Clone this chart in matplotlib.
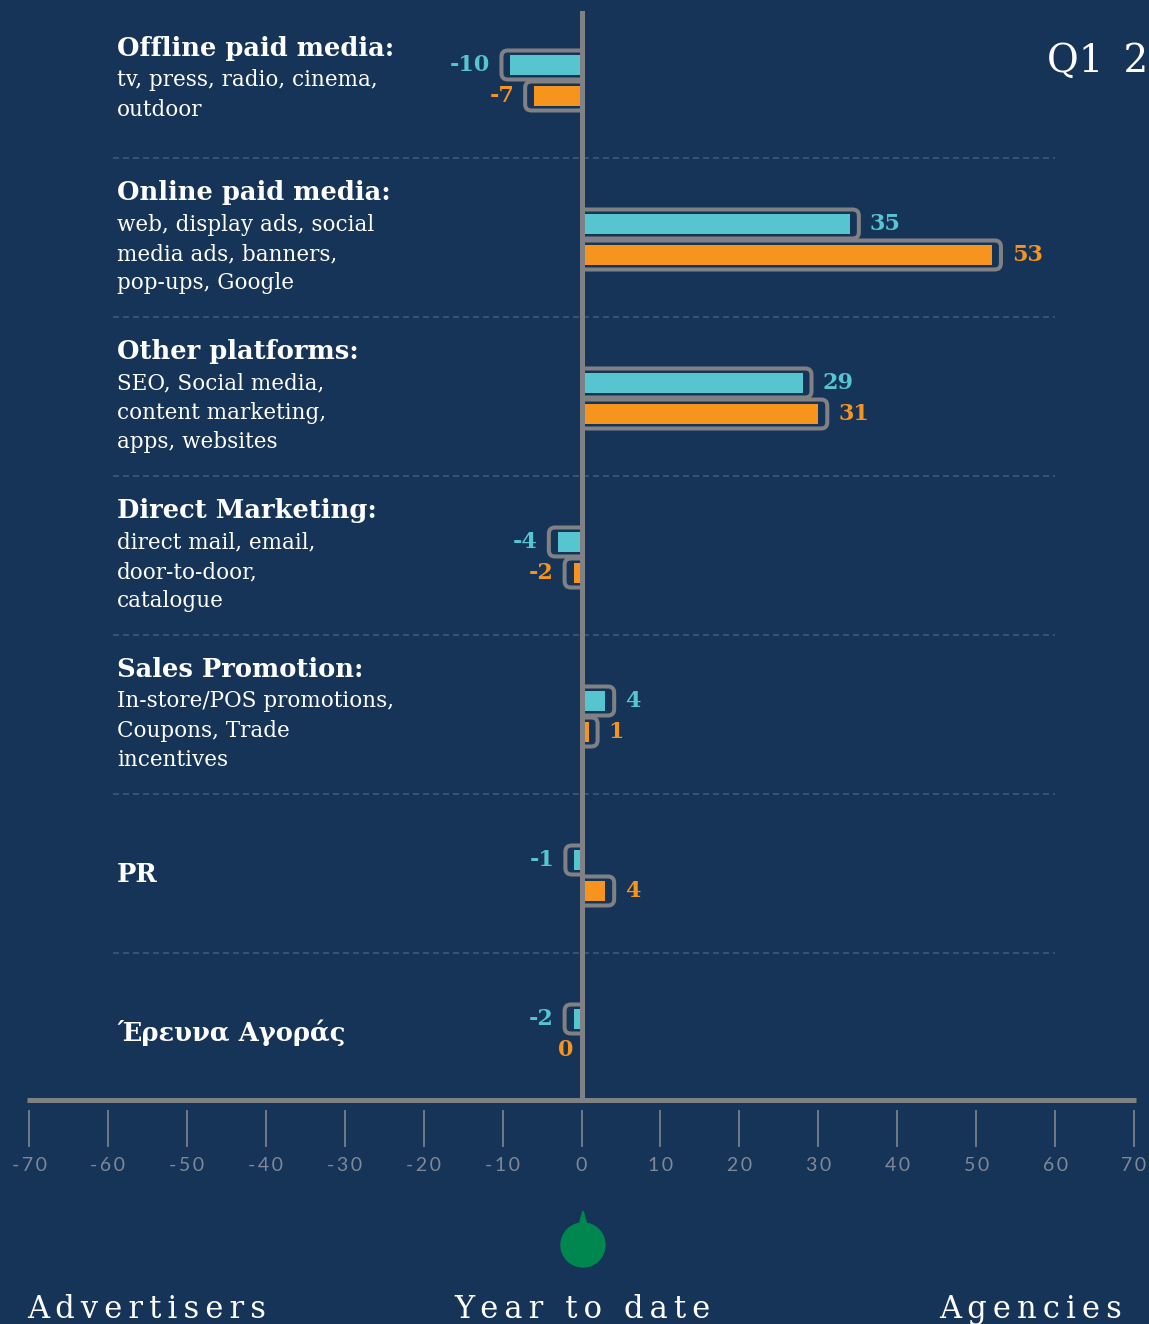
import matplotlib
matplotlib.use('Agg')
import matplotlib.pyplot as plt
from matplotlib.patches import FancyBboxPatch, Ellipse, Polygon, Rectangle

# data
categories = ['Offline paid media:', 'Online paid media:', 'Other platforms:',
              'Direct Marketing:', 'Sales Promotion:', 'PR', 'Έρευνα Αγοράς']
descriptions = [['tv, press, radio, cinema,', 'outdoor'],
                ['web, display ads, social', 'media ads, banners,', 'pop-ups, Google'],
                ['SEO, Social media,', 'content marketing,', 'apps, websites'],
                ['direct mail, email,', 'door-to-door,', 'catalogue'],
                ['In-store/POS promotions,', 'Coupons, Trade', 'incentives'],
                [],
                []]
cyan_values = [-10, 35, 29, -4, 4, -1, -2]
orange_values = [-7, 53, 31, -2, 1, 4, 0]
ticks = [-70, -60, -50, -40, -30, -20, -10, 0, 10, 20, 30, 40, 50, 60, 70]
bottom_labels = ['Advertisers', 'Year to date', 'Agencies']
period = 'Q1 2'

W, H = 1149, 1324
BG = '#163457'
CYAN = '#56c5d0'
ORANGE = '#f7941d'
GRAY = '#808184'
SERIF = ['DejaVu Serif', 'DejaVu Sans']

plt.rcParams['lines.scale_dashes'] = False


def fx(px):
    return px / W


def fy(py):
    return 1 - py / H


fig = plt.figure(figsize=(W / 100, H / 100), dpi=100, facecolor=BG)

# main area, x from -70 to 70, one unit of y per category row
ax = fig.add_axes([fx(29), fy(1100), fx(1134) - fx(29), 1100 / H])
ax.set_facecolor(BG)
ax.set_xlim(-70, 70)
ax.set_ylim(1101 / 159, 1 / 159)
ax.axis('off')

xpx = 1105 / 140.0  # pixels per unit
ypx = 159.0
bar_h = 20 / ypx
box_h = 29 / ypx

for i in range(len(categories)):
    for v, off, col in [(cyan_values[i], 66, CYAN), (orange_values[i], 97, ORANGE)]:
        y = i + off / ypx
        if v == 0:
            ax.text(-1.0, y, str(v), color=col, fontsize=16, fontweight='bold',
                    family=SERIF, ha='right', va='center')
            continue
        s = 1 if v > 0 else -1
        fill = s * max(abs(v) - 1.0, 0.9)
        ax.barh(y, fill, height=bar_h, left=0, color=col, zorder=3)
        end = fill + s * 9 / xpx
        x0 = min(-s * 3, end)
        w = abs(end + s * 3)
        box = FancyBboxPatch((x0, y - box_h / 2), w, box_h,
                             boxstyle='round,pad=0,rounding_size=0.8',
                             mutation_aspect=xpx / ypx,
                             fc='none', ec=GRAY, lw=2.9, zorder=2)
        ax.add_patch(box)
        # keep only the part on the bar's side of the zero line
        half = Rectangle((0, -1), s * 100, 10, transform=ax.transData)
        box.set_clip_path(half)
        ax.text(fill + s * 20 / xpx, y, str(v), color=col, fontsize=16,
                fontweight='bold', family=SERIF,
                ha='left' if s > 0 else 'right', va='center')

# dashed separators
ax.hlines(range(1, len(categories)), -70 + (113 - 29) / xpx, 60, color='#3e5c7e',
          lw=1.1, linestyles=(0, (4.3, 2.9)), zorder=1)

# zero line and base line
ax.axvline(0, ymin=0, ymax=1 - 13 / 1100, color=GRAY, lw=3.6, zorder=5)
ax.plot([-70.25, 70.25], [1101 / 159] * 2, color=GRAY, lw=3.6, clip_on=False,
        solid_capstyle='butt', zorder=5)

# tick axis below the base line
axt = fig.add_axes([fx(29), fy(1110), fx(1134) - fx(29), 0.0001])
axt.set_facecolor('none')
axt.set_xlim(-70, 70)
for sp in axt.spines.values():
    sp.set_visible(False)
axt.set_yticks([])
axt.set_xticks(ticks)
axt.set_xticklabels(['\u2009'.join(str(t)) for t in ticks], family=['Lato', 'DejaVu Sans'],
                    fontsize=14, color='#7e8898')
axt.tick_params(axis='x', direction='out', length=26.6, width=1.1, color='#8a8d92', pad=7)

# category texts
for i, name in enumerate(categories):
    lines = descriptions[i]
    center = i * 159 - 1 + 80
    span = 32 + 29.5 * (len(lines) - 1) if lines else 0
    ty = center - span / 2
    fig.text(fx(117), fy(ty), name, color='white', fontsize=18.5, fontweight='bold',
             family=SERIF, ha='left', va='center')
    for k, line in enumerate(lines):
        fig.text(fx(117), fy(ty + 32 + 29.5 * k), line, color='white', fontsize=15.5,
                 family=SERIF, ha='left', va='center')

fig.text(fx(1047), fy(72), period.replace(' ', '\u2009 '), color='white', fontsize=28,
         family=SERIF, ha='left', va='baseline')

# green marker under the zero
fig.patches.append(Ellipse((fx(583), fy(1245)), 44 / W, 44 / H, color='#00874f',
                           transform=fig.transFigure, figure=fig))
fig.patches.append(Polygon([(fx(583), fy(1211)), (fx(577), fy(1232)), (fx(589), fy(1232))],
                           closed=True, color='#00874f', transform=fig.transFigure, figure=fig))

# bottom labels
for lab, x, ha in zip(bottom_labels, [27, 582, 1122], ['left', 'center', 'right']):
    fig.text(fx(x), fy(1318), '\u2009'.join(lab), color='white', fontsize=22,
             family=SERIF, ha=ha, va='baseline')

fig.savefig('out.png', dpi=100, facecolor=BG)
